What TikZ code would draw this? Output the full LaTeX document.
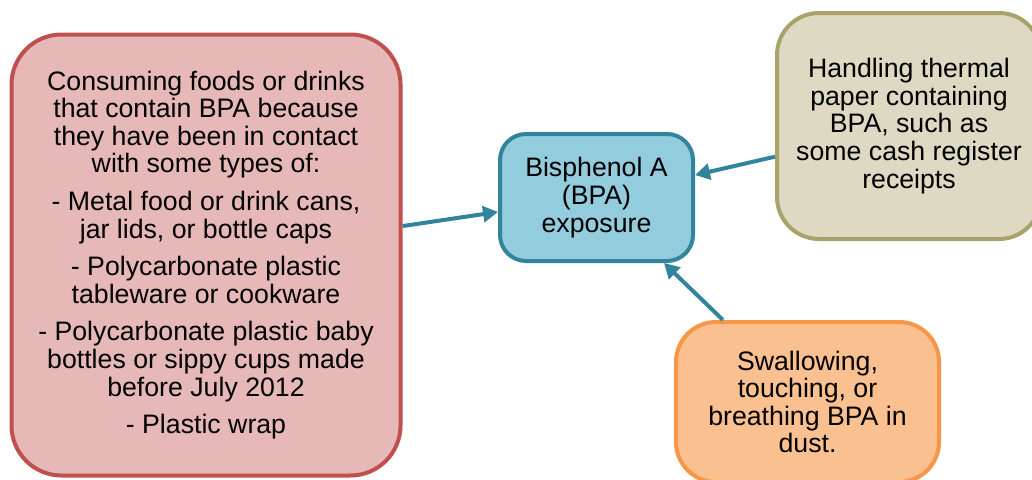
\documentclass[tikz,border=0pt]{standalone}
\usepackage{fontspec}
\setmainfont{Liberation Sans}
\usepackage{tikz}
\usetikzlibrary{arrows.meta}

\definecolor{redfill}{HTML}{E6B9B8}
\definecolor{redline}{HTML}{C0504D}
\definecolor{bluefill}{HTML}{93CDDD}
\definecolor{blueline}{HTML}{31849B}
\definecolor{khakifill}{HTML}{DDD9C3}
\definecolor{khakiline}{HTML}{A9A26A}
\definecolor{orangefill}{HTML}{FAC090}
\definecolor{orangeline}{HTML}{F79646}

\tikzset{
  box/.style={draw, line width=4pt, align=center, inner sep=0pt,
    font=\fontsize{26.7}{27.6}\selectfont},
  arr/.style={draw=blueline, line width=4pt,
    -{Triangle[length=15pt,width=16pt]}}
}

\begin{document}
\begin{tikzpicture}[x=1pt,y=-1pt]
\clip (0,0) rectangle (1032,479);

\node[box, fill=redfill, draw=redline, rounded corners=50pt,
  minimum width=389pt, minimum height=441pt] (source) at (206,255)
  {Consuming foods or drinks\\ that contain BPA because\\ they have been in contact\\ with some types of:\\[10pt]
   - Metal food or drink cans,\\ jar lids, or bottle caps\\[10pt]
   - Polycarbonate plastic\\ tableware or cookware\\[10pt]
   - Polycarbonate plastic baby\\ bottles or sippy cups made\\ before July 2012\\[10pt]
   - Plastic wrap};

\node[box, fill=bluefill, draw=blueline, rounded corners=26pt,
  minimum width=193pt, minimum height=127pt] (exposure) at (596.5,197.5)
  {Bisphenol A\\ (BPA)\\ exposure};

\node[box, fill=khakifill, draw=khakiline, rounded corners=42pt,
  minimum width=264pt, minimum height=226pt] (paper) at (909,126)
  {Handling thermal\\ paper containing\\ BPA, such as\\ some cash register\\ receipts};

\node[box, fill=orangefill, draw=orangeline, rounded corners=40pt,
  minimum width=263pt, minimum height=160pt] (dust) at (807.5,402)
  {Swallowing,\\ touching, or\\ breathing BPA in\\ dust.};

\draw[arr] (source) -- (exposure);
\draw[arr] (paper) -- (exposure);
\draw[arr] (dust) -- (exposure);

\end{tikzpicture}
\end{document}
